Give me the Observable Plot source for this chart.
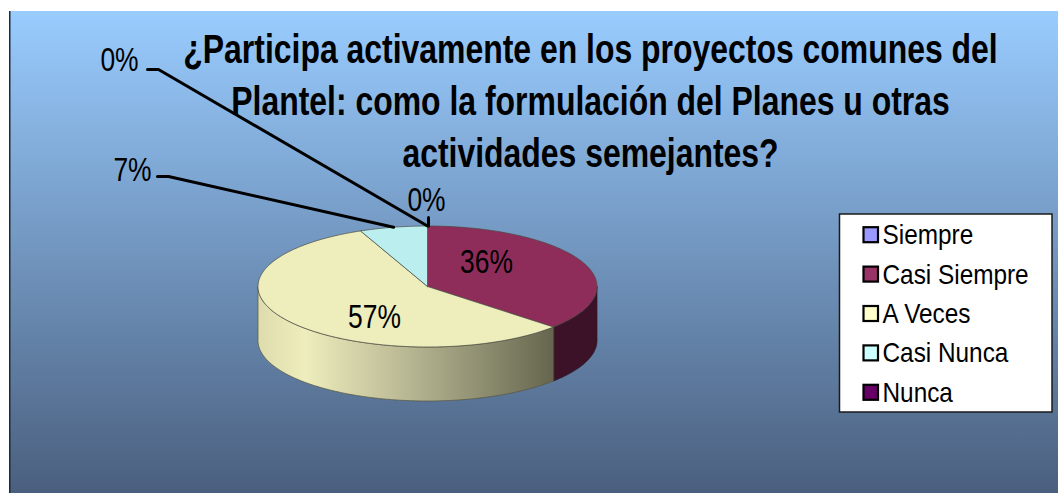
<!DOCTYPE html>
<html lang="es">
<head>
<meta charset="utf-8">
<script src="https://cdn.jsdelivr.net/npm/d3@7"></script>
<script src="https://cdn.jsdelivr.net/npm/@observablehq/plot@0.6"></script>
<style>
html,body{margin:0;padding:0;background:#fff;overflow:hidden}
svg{display:block}
</style>
</head>
<body>
<div id="chart"></div>
<script>
const titleLines = [
  "¿Participa activamente en los proyectos comunes del",
  "Plantel: como la formulación del Planes u otras",
  "actividades semejantes?"
];
const categories = ["Siempre", "Casi Siempre", "A Veces", "Casi Nunca", "Nunca"];
const shares = [0, 36, 57, 7, 0];
const legendColors = ["#9999FF", "#993366", "#FFFFCC", "#CCFFFF", "#660066"];
const faceColors = ["#8C8CE8", "#8F2D5A", "#EEEDBC", "#BBEEEE", "#5C0A5C"];

// layout of the drawing
const W = 1058, H = 493;
const pie = {cx: 427, cy: 286, rx: 169.5, ry: 60.5, depth: 54};
const DEG = Math.PI / 180;
// Angle measured clockwise from the top, with the slight warp of the 3-D view
const warp = t => t - 2.5 * DEG * Math.sin(2 * t);
const px = (t, dy = 0) => ({x: pie.cx + pie.rx * Math.sin(warp(t)), y: pie.cy - pie.ry * Math.cos(warp(t)) + dy});
const total = d3.sum(shares);
const cum = d3.cumsum(shares);
const wedges = categories.map((c, i) => ({
  c, i, a0: ((cum[i] - shares[i]) / total) * 2 * Math.PI, a1: (cum[i] / total) * 2 * Math.PI
}));
const arc = (a0, a1, dy = 0) => {
  const n = Math.max(2, Math.ceil((a1 - a0) / (1 * DEG)));
  return d3.range(n + 1).map(k => px(a0 + (a1 - a0) * k / n, dy));
};

const facePolys = wedges.filter(w => w.a1 > w.a0).map(w => [
  {x: pie.cx, y: pie.cy}, ...arc(w.a0, w.a1), {x: pie.cx, y: pie.cy}
].map(p => ({...p, name: w.c, fill: faceColors[w.i]})));

const wall = (w) => {
  const a0 = Math.max(w.a0, Math.PI / 2), a1 = Math.min(w.a1, 3 * Math.PI / 2);
  return [...arc(a0, a1), ...arc(a0, a1, pie.depth).reverse()];
};
const wallMaroon = wall(wedges[1]);
const wallYellow = wall(wedges[2]);

const defs = () => {
  const ns = "http://www.w3.org/2000/svg";
  const d = document.createElementNS(ns, "defs");
  d.innerHTML = `
    <linearGradient id="bg" x1="0" y1="0" x2="0" y2="1">
      <stop offset="0" stop-color="#99CCFF"/>
      <stop offset="1" stop-color="#4A5F7E"/>
    </linearGradient>
    <linearGradient id="wallY" x1="0" y1="0" x2="1" y2="0">
      <stop offset="0" stop-color="#DEDCAE"/>
      <stop offset="0.16" stop-color="#EEEDBC"/>
      <stop offset="0.5" stop-color="#B9B894"/>
      <stop offset="1" stop-color="#66664F"/>
    </linearGradient>`;
  return d;
};

// Percent labels and leader lines
const labels = [
  {t: shares[0] + "%", x: 426, y: 200},
  {t: shares[1] + "%", x: 486, y: 262},
  {t: shares[2] + "%", x: 374, y: 317},
  {t: shares[3] + "%", x: 132, y: 170},
  {t: shares[4] + "%", x: 119, y: 60}
];
const tipNunca = px(wedges[4].a1);
const tipCasiNunca = px((wedges[3].a0 + wedges[3].a1) / 2);
const tipSiempre = px(0);
const leaders = [
  [{x: 147, y: 69}, {x: 158, y: 69}, tipNunca],
  [{x: 157, y: 176}, {x: 168, y: 176}, tipCasiNunca],
  [{x: tipSiempre.x + 1, y: 217}, {x: tipSiempre.x + 1, y: tipSiempre.y}]
];

const legendRow = i => 234.7 + i * 39.4;
const legendData = categories.map((c, i) => ({c, i, y: legendRow(i), color: legendColors[i]}));

const chart = Plot.plot({
  width: W, height: H, margin: 0,
  x: {domain: [0, W], range: [0, W], axis: null},
  y: {domain: [0, H], range: [0, H], axis: null},
  style: {fontFamily: "'Liberation Sans', Arial, sans-serif", background: "#fff", color: "#000"},
  marks: [
    defs,
    Plot.rect([{}], {x1: () => 10, x2: () => W, y1: () => 11, y2: () => H, fill: "url(#bg)"}),
    Plot.rect([{}], {x1: () => 9, x2: () => 10.5, y1: () => 11, y2: () => H, fill: "#1C2A3A"}),
    // walls
    Plot.line(wallMaroon, {x: "x", y: "y", fill: "#3C1229", stroke: "#2a1a22", strokeWidth: 0.7, curve: "linear-closed"}),
    Plot.line(wallYellow, {x: "x", y: "y", fill: "url(#wallY)", stroke: "#55553f", strokeWidth: 0.7, curve: "linear-closed"}),
    // top faces
    ...facePolys.map(poly => Plot.line(poly, {x: "x", y: "y", fill: poly[0].fill, stroke: "#4a4a40", strokeWidth: 0.7, curve: "linear-closed"})),
    // leaders
    ...leaders.map(l => Plot.line(l, {x: "x", y: "y", stroke: "#000", strokeWidth: 3, strokeLinejoin: "miter", fill: "none"})),
    // percent labels
    Plot.text(labels, {x: "x", y: "y", text: "t", fontSize: 33, fill: "#000"}),
    // title
    Plot.text(titleLines, {x: () => 590, y: (d, i) => 49 + i * 52, text: d => d, fontSize: 41, fontWeight: "bold", fill: "#000"}),
    // legend
    Plot.rect([{}], {x1: () => 839.5, x2: () => 1052, y1: () => 214, y2: () => 412, fill: "#fff", stroke: "#1a1a1a", strokeWidth: 1.5}),
    Plot.rect(legendData, {x1: () => 863.5, x2: () => 878, y1: d => d.y - 7.5, y2: d => d.y + 7.5, fill: "color", stroke: "#000", strokeWidth: 2.2}),
    Plot.text(legendData, {x: () => 882, y: "y", text: "c", textAnchor: "start", fontSize: 28, fill: "#000"})
  ]
});
document.getElementById("chart").append(chart);

// The reference's lettering is horizontally compressed: scale each text about its anchor
const squeeze = {33: 0.8, 41: 0.779, 28: 0.87};
chart.querySelectorAll("text").forEach(t => {
  const k = squeeze[parseInt(t.closest("g").getAttribute("font-size"))] || 1;
  const x = +(t.getAttribute("x") || 0);
  const tr = t.getAttribute("transform") || "";
  t.setAttribute("transform", `${tr} translate(${x},0) scale(${k},1) translate(${-x},0)`);
});
</script>
</body>
</html>
